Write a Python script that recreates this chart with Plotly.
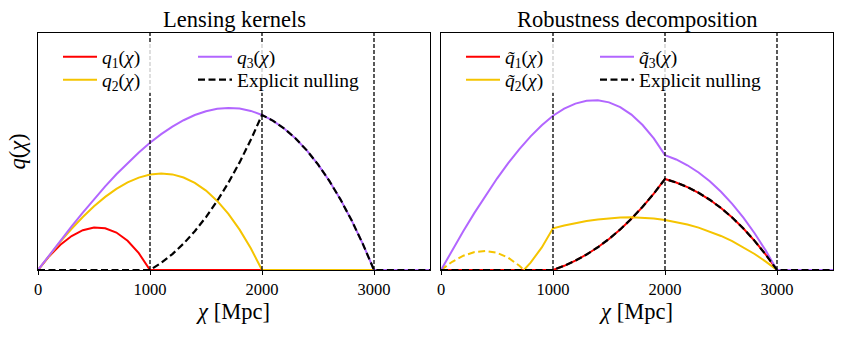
import plotly.graph_objects as go

# ---------------- data ----------------
chi = [0, 100, 200, 300, 400, 500, 600, 700, 800, 900,
       1000, 1100, 1200, 1300, 1400, 1500, 1600, 1700, 1800, 1900,
       2000, 2100, 2200, 2300, 2400, 2500, 2600, 2700, 2800, 2900,
       3000, 3100, 3200, 3300, 3400, 3500]

# Left panel: lensing kernels
q1 = [0, 0.0582, 0.1063, 0.1432, 0.1679, 0.1793, 0.1763, 0.1580, 0.1232, 0.0709,
      0, 0, 0, 0, 0, 0, 0, 0, 0, 0,
      0, 0, 0, 0, 0, 0, 0, 0, 0, 0,
      0, 0, 0, 0, 0, 0]
q2 = [0, 0.0614, 0.1196, 0.1739, 0.2238, 0.2689, 0.3086, 0.3423, 0.3695, 0.3898,
      0.4026, 0.4073, 0.4034, 0.3904, 0.3677, 0.3349, 0.2915, 0.2367, 0.1703, 0.0915,
      0, 0, 0, 0, 0, 0, 0, 0, 0, 0,
      0, 0, 0, 0, 0, 0]
q3 = [0, 0.0625, 0.1240, 0.1841, 0.2425, 0.2988, 0.3526, 0.4037, 0.4517, 0.4961,
      0.5367, 0.5732, 0.6050, 0.6320, 0.6538, 0.6699, 0.6801, 0.6839, 0.6811, 0.6713,
      0.6542, 0.6293, 0.5963, 0.5550, 0.5048, 0.4455, 0.3768, 0.2982, 0.2095, 0.1102,
      0, 0, 0, 0, 0, 0]
nulled = [0, 0, 0, 0, 0, 0, 0, 0, 0, 0,
          0, 0.0302, 0.0672, 0.1115, 0.1634, 0.2233, 0.2915, 0.3683, 0.4541, 0.5493,
          0.6542, 0.6293, 0.5963, 0.5550, 0.5048, 0.4455, 0.3768, 0.2982, 0.2095, 0.1102,
          0, 0, 0, 0, 0, 0]

# Right panel: robustness decomposition
q1t = [0, 0, 0, 0, 0, 0, 0, 0, 0, 0,
       0, 0.0177, 0.0394, 0.0655, 0.0959, 0.1311, 0.1711, 0.2162, 0.2666, 0.3224,
       0.3840, 0.3694, 0.3500, 0.3258, 0.2963, 0.2615, 0.2212, 0.1750, 0.1230, 0.0647,
       0, 0, 0, 0, 0, 0]
nulled_t = q1t
chi_q2t_neg = [0, 100, 200, 300, 400, 500, 600, 700, 740]
q2t_neg = [0, -0.0348, -0.0603, -0.0757, -0.0800, -0.0724, -0.0519, -0.0177, 0]
chi_q2t_pos = [740, 800, 900, 1000, 1100, 1200, 1300, 1400, 1500, 1600, 1700, 1800, 1900,
               2000, 2100, 2200, 2300, 2400, 2500, 2600, 2700, 2800, 2900,
               3000, 3100, 3200, 3300, 3400, 3500]
q2t_pos = [0, 0.0311, 0.0954, 0.1760, 0.1878, 0.1980, 0.2066, 0.2135, 0.2184, 0.2214,
           0.2222, 0.2209, 0.2171, 0.2110, 0.2029, 0.1923, 0.1789, 0.1628, 0.1437, 0.1215,
           0.0962, 0.0675, 0.0355, 0, 0, 0, 0, 0, 0]
q3t = [0, 0.0835, 0.1643, 0.2421, 0.3161, 0.3859, 0.4508, 0.5104, 0.5639, 0.6110,
       0.6510, 0.6810, 0.7022, 0.7139, 0.7158, 0.7072, 0.6874, 0.6559, 0.6118, 0.5551,
       0.4850, 0.4664, 0.4420, 0.4113, 0.3742, 0.3302, 0.2793, 0.2210, 0.1552, 0.0817,
       0, 0, 0, 0, 0, 0]

boundaries = [1000, 2000, 3000]
x_ticks = [0, 1000, 2000, 3000]
x_range = [0, 3500]
y_range = [0, 1]

titles = ["Lensing kernels", "Robustness decomposition"]
names_left = ["<i>q</i><sub>1</sub>(<i>χ</i>)", "<i>q</i><sub>2</sub>(<i>χ</i>)",
              "<i>q</i><sub>3</sub>(<i>χ</i>)", "Explicit nulling"]
names_right = ["<i>q̃</i><sub>1</sub>(<i>χ</i>)", "<i>q̃</i><sub>2</sub>(<i>χ</i>)",
               "<i>q̃</i><sub>3</sub>(<i>χ</i>)", "Explicit nulling"]

# ---------------- styles ----------------
RED = "#ff0000"
YELLOW = "#f5c400"
PURPLE = "#b266ff"
BLACK = "#000000"
FONT = "Liberation Serif, Times New Roman, serif"
LW = 2.0
DASH = "7px,3.5px"
TITLE_SIZE = 22.5

fig = go.Figure()

def add(x, y, color, xa, ya, legend=None, name=None, dash=None, show=True, width=LW):
    fig.add_trace(go.Scatter(
        x=x, y=y, mode="lines", name=name,
        line=dict(color=color, width=width, dash=dash),
        xaxis=xa, yaxis=ya, legend=legend, showlegend=show and legend is not None,
        hoverinfo="skip"))

# left panel
add(chi, q1, RED, "x", "y", "legend", names_left[0])
add(chi, q2, YELLOW, "x", "y", "legend2", names_left[1])
add(chi, q3, PURPLE, "x", "y", "legend3", names_left[2])
add(chi, nulled, BLACK, "x", "y", "legend4", names_left[3], dash=DASH, width=2.2)

# right panel
add(chi, q1t, RED, "x2", "y2", "legend5", names_right[0])
add(chi_q2t_pos, q2t_pos, YELLOW, "x2", "y2", "legend6", names_right[1])
add(chi_q2t_neg, [-v for v in q2t_neg], YELLOW, "x2", "y2", None, None, dash=DASH, show=False)
add(chi, q3t, PURPLE, "x2", "y2", "legend7", names_right[2])
add(chi, nulled_t, BLACK, "x2", "y2", "legend8", names_right[3], dash=DASH, width=2.2)

W, H = 843, 338
ML, MR, MT, MB = 38, 10, 33, 68
PW = W - ML - MR
PH = H - MT - MB

def px_x(px):
    return (px - ML) / PW

def px_y(py):
    return (H - MB - py) / PH

axis_common = dict(range=x_range, tickvals=x_ticks, ticks="outside", ticklen=4,
                   tickwidth=1, tickcolor="black", showline=True, linecolor="black",
                   linewidth=1, mirror=True, showgrid=False, zeroline=False,
                   tickfont=dict(family=FONT, size=16.5, color="black"),
                   title=dict(text="<i>χ</i> [Mpc]",
                              font=dict(family=FONT, size=TITLE_SIZE, color="black"),
                              standoff=5))
yaxis_common = dict(range=y_range, showticklabels=False, ticks="", showline=True,
                    linecolor="black", linewidth=1, mirror=True, showgrid=False,
                    zeroline=False)

split = (430 - ML) / PW
split2 = (441 - ML) / PW

ITEMW = 34
legend_font = dict(family=FONT, size=19.5, color="black")
def leg(text_px, row_py):
    return dict(x=px_x(text_px - ITEMW - 10), y=px_y(row_py), xanchor="left", yanchor="middle",
                bgcolor="rgba(0,0,0,0)", borderwidth=0, font=legend_font, itemwidth=ITEMW)

fig.update_layout(
    width=W, height=H,
    margin=dict(l=ML, r=MR, t=MT, b=MB, autoexpand=False),
    paper_bgcolor="white", plot_bgcolor="white",
    font=dict(family=FONT, color="black"),
    xaxis=dict(domain=[0, split], anchor="y", **axis_common),
    xaxis2=dict(domain=[split2, 1], anchor="y2", **axis_common),
    yaxis=dict(domain=[0, 1], anchor="x",
               title=dict(text="<i>q</i>(<i>χ</i>)",
                          font=dict(family=FONT, size=TITLE_SIZE, color="black"),
                          standoff=5),
               **yaxis_common),
    yaxis2=dict(domain=[0, 1], anchor="x2", **yaxis_common),
    legend=leg(102, 57),
    legend2=leg(102, 80),
    legend3=leg(237, 57),
    legend4=leg(237, 80),
    legend5=leg(505, 57),
    legend6=leg(505, 80),
    legend7=leg(639, 57),
    legend8=leg(639, 80),
)

shapes = []
for xa, ya in [("x", "y"), ("x2", "y2")]:
    for b in boundaries:
        shapes.append(dict(type="line", xref=xa, yref=ya + " domain", x0=b, x1=b, y0=0, y1=1,
                           line=dict(color="black", width=1.3, dash="4px,2px"), layer="above"))
# semi-transparent legend frames
shapes.append(dict(type="rect", xref="x domain", yref="y domain",
                   x0=(45 - 38) / 392, x1=(365 - 38) / 392, y0=px_y(93), y1=px_y(43),
                   fillcolor="rgba(255,255,255,0.8)", line=dict(width=0), layer="above"))
shapes.append(dict(type="rect", xref="x2 domain", yref="y2 domain",
                   x0=(448 - 441) / 392, x1=(766 - 441) / 392, y0=px_y(93), y1=px_y(43),
                   fillcolor="rgba(255,255,255,0.8)", line=dict(width=0), layer="above"))
fig.update_layout(shapes=shapes)

annotations = []
for i, t in enumerate(titles):
    ax = "x" if i == 0 else "x2"
    ay = "y" if i == 0 else "y2"
    annotations.append(dict(text=t, xref=ax + " domain", yref=ay + " domain", x=0.5, y=1,
                            xanchor="center", yanchor="bottom", yshift=-1, showarrow=False,
                            font=dict(family=FONT, size=TITLE_SIZE, color="black")))
fig.update_layout(annotations=annotations)

fig.write_html("out.html", config={"displayModeBar": False},
               post_script="document.body.style.margin='0';document.body.style.padding='0';")
